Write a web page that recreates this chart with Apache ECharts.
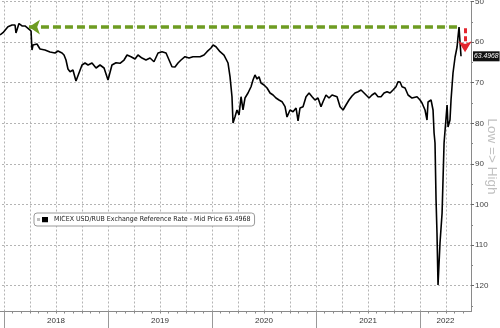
<!DOCTYPE html>
<html>
<head>
<meta charset="utf-8">
<script src="https://cdn.jsdelivr.net/npm/echarts@6/dist/echarts.min.js"></script>
<style>html,body{margin:0;padding:0;background:#fff}#c{width:500px;height:328px}</style>
</head>
<body>
<div id="c"></div>
<script>
// Time expressed as decimal years, values in RUB per USD
const years = [2017.962,2017.990,2018.038,2018.077,2018.106,2018.115,2018.144,2018.173,2018.202,2018.231,2018.250,2018.260,2018.269,2018.279,2018.317,2018.346,2018.394,2018.442,2018.490,2018.519,2018.558,2018.577,2018.596,2018.615,2018.635,2018.663,2018.692,2018.721,2018.750,2018.779,2018.808,2018.846,2018.885,2018.923,2018.962,2019.000,2019.038,2019.077,2019.115,2019.154,2019.183,2019.221,2019.260,2019.288,2019.327,2019.365,2019.404,2019.442,2019.481,2019.519,2019.558,2019.587,2019.615,2019.644,2019.673,2019.702,2019.740,2019.779,2019.817,2019.856,2019.885,2019.923,2019.952,2019.990,2020.010,2020.038,2020.077,2020.115,2020.154,2020.173,2020.192,2020.202,2020.221,2020.240,2020.260,2020.279,2020.298,2020.317,2020.346,2020.375,2020.394,2020.413,2020.433,2020.452,2020.471,2020.500,2020.529,2020.558,2020.587,2020.615,2020.644,2020.673,2020.702,2020.721,2020.750,2020.779,2020.808,2020.827,2020.846,2020.875,2020.904,2020.933,2020.962,2020.990,2021.019,2021.048,2021.067,2021.096,2021.125,2021.154,2021.173,2021.202,2021.231,2021.260,2021.288,2021.317,2021.346,2021.375,2021.404,2021.433,2021.462,2021.481,2021.510,2021.538,2021.567,2021.596,2021.625,2021.654,2021.683,2021.712,2021.740,2021.769,2021.788,2021.808,2021.827,2021.856,2021.885,2021.923,2021.971,2022.000,2022.019,2022.048,2022.067,2022.077,2022.106,2022.125,2022.135,2022.144,2022.154,2022.163,2022.173,2022.192,2022.212,2022.231,2022.250,2022.260,2022.269,2022.288,2022.298,2022.317,2022.337,2022.356,2022.365,2022.375,2022.385,2022.394];
const rates = [58.25,57.68,56.21,55.79,55.79,57.76,55.42,56.03,56.03,56.60,57.02,57.27,61.95,60.71,60.47,61.70,61.95,62.44,62.68,62.19,62.68,63.18,64.41,66.63,67.29,66.87,69.58,67.61,65.64,65.15,65.64,65.15,66.38,65.64,66.38,69.33,65.64,65.07,65.22,64.41,63.18,63.60,64.16,63.18,63.92,64.41,63.92,64.83,62.68,62.36,62.68,64.41,66.06,66.13,65.15,64.41,63.60,63.92,63.60,63.60,63.60,63.18,62.36,61.45,60.71,61.13,62.36,63.18,65.15,68.52,73.45,79.93,78.37,76.72,77.96,73.45,76.72,73.77,72.54,70.99,69.33,68.10,69.09,68.52,70.07,70.57,71.31,72.54,73.03,73.77,74.26,74.68,75.91,78.45,76.72,77.14,76.23,79.43,76.23,75.91,73.45,72.54,73.45,74.26,73.77,75.91,74.68,73.03,73.77,73.03,72.54,73.45,75.91,76.72,75.49,74.26,73.28,72.54,72.22,71.80,72.54,72.54,73.77,73.03,72.54,73.45,73.45,72.54,72.22,72.54,71.80,70.99,69.75,69.83,70.99,71.31,73.03,73.77,73.45,74.26,75.00,76.72,79.19,74.75,74.26,76.72,82.39,84.85,98.89,107.02,119.83,109.48,102.09,84.85,78.69,75.49,80.91,79.19,74.26,67.61,63.67,61.21,58.74,56.28,60.22,63.4968];

const seriesName = 'MICEX USD/RUB Exchange Reference Rate - Mid Price';
const lastPrice = 63.4968;
const yearTicks = [2018, 2019, 2020, 2021, 2022];
const yearLabelPos = [2018.5, 2019.5, 2020.5, 2021.5, 2022.245];
const priceTicks = [50, 60, 70, 80, 90, 100, 110, 120];
const priceMinorTicks = [55, 65, 75, 85, 95, 105, 115, 125];
const peakLevel = 56.3;
const greenArrow = [2018.24, 2022.356];
const redArrowX = 2022.433;
const redArrowY = [56.6, 62.5];

// axis starts one quarter before 2018 (off-canvas) so quarterly grid lines align
const xMin = 2017.75, xMax = 2022.49;
const yMin = 50, yMax = 126.35;

const monthTicks = [];
for (let y = 2018; y <= 2022; y++) for (let m = 0; m < 12; m++) { const v = y + m / 12; if (v <= xMax) monthTicks.push(+v.toFixed(4)); }

const gridCol = '#b4b4b4';
const axisCol = '#8a8a8a';
const legendIcon = "image://data:image/svg+xml;utf8," + encodeURIComponent("<svg xmlns='http://www.w3.org/2000/svg' width='12' height='6'><rect x='0' y='1.5' width='3' height='3' fill='#bdbdbd'/><rect x='5' y='0' width='6' height='6' fill='#000'/></svg>");

const chart = echarts.init(document.getElementById('c'), null, { renderer: 'canvas' });
const baseX = { type: 'value', min: xMin, max: xMax, gridIndex: 0, position: 'bottom' };
chart.setOption({
  animation: false,
  backgroundColor: '#fff',
  grid: { left: -22, right: 29, top: 1.5, bottom: 16.5, containLabel: false, outerBoundsMode: 'none' },
  legend: {
    left: 34, top: 213, backgroundColor: '#fff', borderColor: '#9a9a9a', borderWidth: 1, borderRadius: 3,
    padding: [3, 4, 3, 3], itemWidth: 12, itemHeight: 6, icon: legendIcon,
    textStyle: { fontSize: 7, color: '#222', fontFamily: "'DejaVu Sans Condensed', sans-serif" },
    formatter: n => n + ' ' + lastPrice,
    data: [seriesName]
  },
  xAxis: [
    Object.assign({}, baseX, {
      axisLine: { show: true, lineStyle: { color: axisCol, width: 1 } },
      axisTick: { show: true, customValues: monthTicks, length: 2, lineStyle: { color: axisCol } },
      axisLabel: { show: false }, splitLine: { show: false }
    }),
    Object.assign({}, baseX, {
      interval: 0.25,
      axisLine: { show: false },
      axisTick: { show: false },
      axisLabel: { show: false },
      splitLine: { show: true, lineStyle: { color: gridCol, type: [2, 2], width: 1 } }
    }),
    Object.assign({}, baseX, {
      axisLine: { show: false },
      axisTick: { show: true, customValues: yearTicks, length: 17, lineStyle: { color: '#999' } },
      axisLabel: { show: true, customValues: yearLabelPos, formatter: v => String(Math.floor(v)), fontSize: 8, color: '#333', margin: 5, fontFamily: 'Liberation Sans' },
      splitLine: { show: false }
    })
  ],
  yAxis: [
    {
      type: 'value', position: 'right', inverse: true, min: yMin, max: yMax,
      axisLine: { show: true, lineStyle: { color: axisCol } },
      axisTick: { show: true, customValues: priceTicks, length: 3, lineStyle: { color: '#666' } },
      axisLabel: { customValues: priceTicks, fontSize: 8, color: '#444', margin: 4, fontFamily: 'Liberation Sans' },
      splitLine: { show: true, lineStyle: { color: gridCol, type: [2, 2], width: 1 } },
      name: 'Low => High', nameLocation: 'middle', nameRotate: -90, nameGap: 14, nameMoveOverlap: false,
      nameTextStyle: { fontSize: 13.5, color: '#c0c0c0', fontFamily: 'Liberation Sans' }
    },
    {
      type: 'value', position: 'right', inverse: true, min: yMin, max: yMax,
      axisLine: { show: false },
      axisTick: { show: true, customValues: priceMinorTicks, length: 2, lineStyle: { color: '#888' } },
      axisLabel: { show: false }, splitLine: { show: false }
    }
  ],
  series: [{
    name: seriesName, type: 'line', xAxisIndex: 0, yAxisIndex: 0,
    data: years.map((y, i) => [y, rates[i]]),
    symbol: 'none', lineStyle: { color: '#000', width: 1.6 }, itemStyle: { color: '#000' },
    markLine: {
      silent: true, animation: false, symbol: 'none',
      data: [
        [
          { coord: [greenArrow[0], peakLevel], symbol: 'arrow', symbolSize: [11, 11],
            lineStyle: { color: '#6e9c22', width: 3.5, type: [8, 4] }, label: { show: false } },
          { coord: [greenArrow[1], peakLevel], symbol: 'none' }
        ],
        [
          { coord: [redArrowX, redArrowY[0]], symbol: 'none',
            lineStyle: { color: '#e3262e', width: 3, type: [5, 3] }, label: { show: false } },
          { coord: [redArrowX, redArrowY[1]], symbol: 'arrow', symbolSize: [10, 11] }
        ],
        { yAxis: lastPrice, symbol: 'none', lineStyle: { color: 'rgba(0,0,0,0)', width: 1 },
          label: { show: true, position: 'end', distance: 2, formatter: String(lastPrice), color: '#fff',
            backgroundColor: '#111', padding: [2, 1, 1, 1], fontSize: 6.8, fontStyle: 'italic', fontFamily: 'Liberation Sans' } }
      ]
    }
  }]
});
</script>
</body>
</html>
